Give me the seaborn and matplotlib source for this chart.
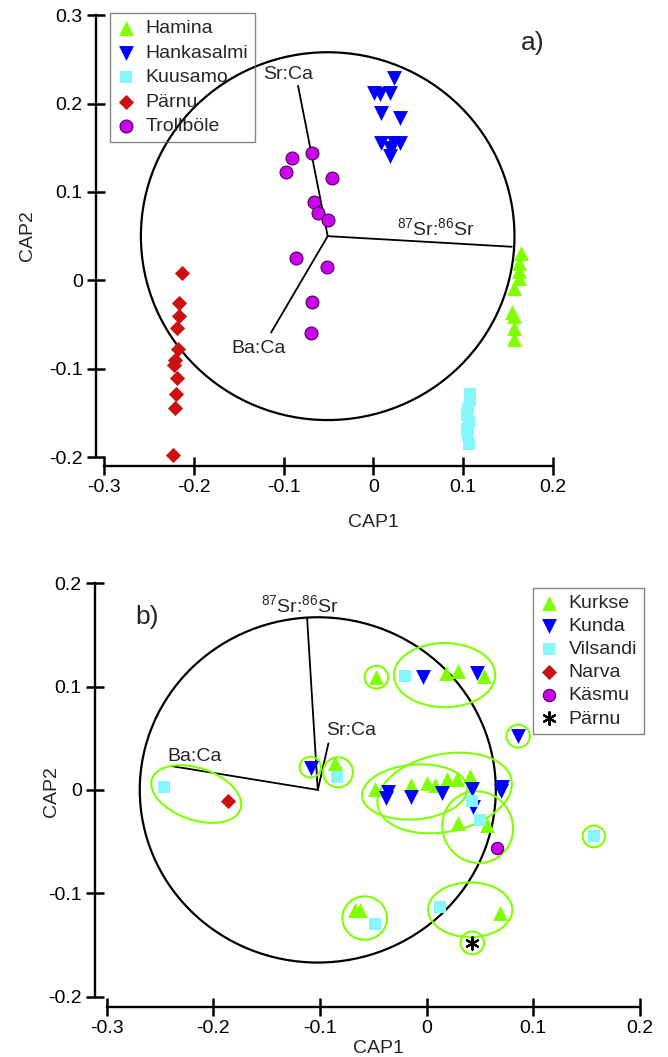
import numpy as np
import pandas as pd
import matplotlib
matplotlib.use("Agg")
import matplotlib.pyplot as plt
import seaborn as sns
from matplotlib.patches import Ellipse

# ---- panel a data (CAP scores) ----
hamina_x = [0.164, 0.162, 0.162, 0.162, 0.157, 0.154, 0.157, 0.157, 0.157]
hamina_y = [0.031, 0.020, 0.011, 0.003, -0.009, -0.036, -0.040, -0.054, -0.066]
hankasalmi_x = [0.023, 0.001, 0.007, 0.018, 0.008, 0.029, 0.008, 0.029, 0.018, 0.018, 0.023]
hankasalmi_y = [0.229, 0.212, 0.211, 0.212, 0.189, 0.184, 0.155, 0.155, 0.150, 0.141, 0.155]
kuusamo_x = [0.108, 0.107, 0.105, 0.104, 0.106, 0.104, 0.105, 0.106]
kuusamo_y = [-0.128, -0.135, -0.145, -0.152, -0.160, -0.168, -0.175, -0.185]
parnu_a_x = [-0.213, -0.217, -0.217, -0.219, -0.218, -0.221, -0.222, -0.219, -0.220, -0.221, -0.223]
parnu_a_y = [0.008, -0.026, -0.040, -0.054, -0.078, -0.090, -0.096, -0.111, -0.129, -0.144, -0.197]
trollbole_x = [-0.091, -0.097, -0.069, -0.046, -0.066, -0.062, -0.051, -0.086, -0.052, -0.069, -0.070]
trollbole_y = [0.138, 0.122, 0.144, 0.116, 0.089, 0.076, 0.068, 0.025, 0.015, -0.025, -0.060]

vec_a_origin = (-0.051, 0.050)
vec_a_names = ["Sr:Ca", "$^{87}$Sr:$^{86}$Sr", "Ba:Ca"]
vec_a_x = [-0.084, 0.154, -0.114]
vec_a_y = [0.220, 0.038, -0.059]
circle_a_r = 0.208

# ---- panel b data ----
kurkse_x = [-0.047, 0.018, 0.030, 0.054, -0.086, -0.048, -0.015, 0.0005, 0.008, 0.019,
            0.029, 0.041, 0.030, 0.057, -0.067, -0.062, 0.069]
kurkse_y = [0.109, 0.113, 0.115, 0.110, 0.026, 0.001, 0.005, 0.007, 0.005, 0.011,
            0.011, 0.013, -0.032, -0.034, -0.116, -0.116, -0.119]
kunda_x = [-0.003, 0.047, 0.086, -0.108, -0.036, -0.038, -0.015, 0.015, 0.043, 0.044, 0.071, 0.070]
kunda_y = [0.109, 0.113, 0.052, 0.021, -0.002, -0.008, -0.007, -0.003, 0.001, -0.017, 0.003, -0.001]
vilsandi_x = [-0.020, -0.084, 0.043, 0.050, 0.157, -0.048, 0.013, -0.246]
vilsandi_y = [0.110, 0.012, -0.011, -0.029, -0.045, -0.130, -0.113, 0.003]
narva_x = [-0.186]
narva_y = [-0.011]
kasmu_x = [0.066]
kasmu_y = [-0.056]
parnu_b_x = [0.043]
parnu_b_y = [-0.148]

# group ellipses: centre x, centre y, width, height, angle
ell_cx = [-0.216, -0.109, -0.083, -0.047, 0.017, 0.086, -0.011, 0.017, 0.048, 0.157, -0.058, 0.041, 0.043]
ell_cy = [-0.004, 0.022, 0.017, 0.109, 0.111, 0.052, -0.002, -0.003, -0.036, -0.045, -0.124, -0.116, -0.148]
ell_w = [0.088, 0.020, 0.028, 0.022, 0.095, 0.022, 0.099, 0.128, 0.066, 0.021, 0.042, 0.079, 0.022]
ell_h = [0.050, 0.020, 0.029, 0.022, 0.062, 0.022, 0.053, 0.075, 0.070, 0.021, 0.042, 0.053, 0.022]
ell_ang = [-20, 0, 0, 0, 0, 0, 5, 12, 20, 0, 0, 0, 0]

vec_b_origin = (-0.102, 0.0)
vec_b_names = ["$^{87}$Sr:$^{86}$Sr", "Ba:Ca", "Sr:Ca"]
vec_b_x = [-0.112, -0.239, -0.092]
vec_b_y = [0.166, 0.023, 0.045]
circle_b_r = 0.167

xticks = [-0.3, -0.2, -0.1, 0.0, 0.1, 0.2]
xtick_labels = ["-0.3", "-0.2", "-0.1", "0", "0.1", "0.2"]
yticks_a = [-0.2, -0.1, 0.0, 0.1, 0.2, 0.3]
ytick_labels_a = ["-0.2", "-0.1", "0", "0.1", "0.2", "0.3"]
yticks_b = [-0.2, -0.1, 0.0, 0.1, 0.2]
ytick_labels_b = ["-0.2", "-0.1", "0", "0.1", "0.2"]

GREEN = "#7fff00"
BLUE = "#0000ff"
CYAN = "#86f7fa"
RED = "#cc1111"
MAGENTA = "#cc00ee"
ASTERISK = (6, 2, 0)

sns.set_style("ticks")
plt.rcParams["font.family"] = ["Liberation Sans", "DejaVu Sans"]
plt.rcParams["mathtext.default"] = "regular"

fig = plt.figure(figsize=(6.68, 10.57), dpi=100)
ax1 = fig.add_axes([0.1437, 0.5591, 0.691, 0.4308])
ax2 = fig.add_axes([0.1422, 0.0473, 0.8234, 0.4059])


def scatter_group(ax, xs, ys, label, color, marker, size):
    df = pd.DataFrame({"CAP1": xs, "CAP2": ys})
    kw = dict(color=color, marker=marker, s=size, zorder=3, clip_on=False)
    if marker == "o":
        kw.update(edgecolor="#3a0040", linewidth=0.7)
    elif marker == ASTERISK:
        kw.update(linewidth=1.6)
    else:
        kw.update(linewidth=0)
    sns.scatterplot(data=df, x="CAP1", y="CAP2", ax=ax, label=label, **kw)


def draw_biplot(ax, origin, radius, names, vx, vy, offsets):
    ax.add_patch(Ellipse(origin, 2 * radius, 2 * radius, fill=False, ec="k", lw=1.6, zorder=2))
    for name, x, y, off in zip(names, vx, vy, offsets):
        ax.plot([origin[0], x], [origin[1], y], color="k", lw=1.3, zorder=2)
        ax.annotate(name, xy=(x, y), xytext=off, textcoords="offset pixels",
                    ha="center", va="center", fontsize=14)


def style_axes(ax, yticks, ylabels, xlim, ylim):
    ax.set_xlim(*xlim)
    ax.set_ylim(*ylim)
    ax.set_xticks(xticks)
    ax.set_yticks(yticks)
    sns.despine(ax=ax, trim=True)
    ax.set_xticklabels(xtick_labels)
    ax.set_yticklabels(ylabels)
    for s in ["left", "bottom"]:
        ax.spines[s].set_linewidth(1.7)
        ax.spines[s].set_color("k")
    ax.tick_params(direction="inout", length=13, width=1.8, labelsize=14, pad=3, colors="k")
    ax.set_xlabel("CAP1", fontsize=14)
    ax.set_ylabel("CAP2", fontsize=14)


# ---- panel a ----
draw_biplot(ax1, vec_a_origin, circle_a_r, vec_a_names, vec_a_x, vec_a_y,
            [(-10, 11), (-76, 19), (-13, -16)])
scatter_group(ax1, hamina_x, hamina_y, "Hamina", GREEN, "^", 115)
scatter_group(ax1, hankasalmi_x, hankasalmi_y, "Hankasalmi", BLUE, "v", 115)
scatter_group(ax1, kuusamo_x, kuusamo_y, "Kuusamo", CYAN, "s", 75)
scatter_group(ax1, parnu_a_x, parnu_a_y, "Pärnu", RED, "D", 60)
scatter_group(ax1, trollbole_x, trollbole_y, "Trollböle", MAGENTA, "o", 88)
style_axes(ax1, yticks_a, ytick_labels_a, (-0.309, 0.205), (-0.21, 0.305))
ax1.xaxis.set_label_coords(0.60, -0.105)
ax1.yaxis.set_label_coords(-0.13, 0.507)
ax1.text(0.177, 0.269, "a)", fontsize=19, ha="center", va="center")
leg = ax1.legend(loc="upper left", bbox_to_anchor=(0.03, 0.995), borderaxespad=0,
                 fancybox=False, edgecolor="#666666", fontsize=14, handlelength=1.0,
                 handletextpad=0.5, borderpad=0.35, labelspacing=0.35, scatterpoints=1)
leg.get_frame().set_facecolor("none")
leg.get_frame().set_linewidth(1.0)

# ---- panel b ----
draw_biplot(ax2, vec_b_origin, circle_b_r, vec_b_names, vec_b_x, vec_b_y,
            [(-7, 13), (23, 10), (23, 13)])
for cx, cy, w, h, a in zip(ell_cx, ell_cy, ell_w, ell_h, ell_ang):
    ax2.add_patch(Ellipse((cx, cy), w, h, angle=a, fill=False, ec=GREEN, lw=1.5, zorder=2))
scatter_group(ax2, kurkse_x, kurkse_y, "Kurkse", GREEN, "^", 115)
scatter_group(ax2, kunda_x, kunda_y, "Kunda", BLUE, "v", 115)
scatter_group(ax2, vilsandi_x, vilsandi_y, "Vilsandi", CYAN, "s", 75)
scatter_group(ax2, narva_x, narva_y, "Narva", RED, "D", 60)
scatter_group(ax2, kasmu_x, kasmu_y, "Käsmu", MAGENTA, "o", 80)
scatter_group(ax2, parnu_b_x, parnu_b_y, "Pärnu", "k", ASTERISK, 80)
style_axes(ax2, yticks_b, ytick_labels_b, (-0.311, 0.205), (-0.21, 0.205))
ax2.xaxis.set_label_coords(0.515, -0.077)
ax2.yaxis.set_label_coords(-0.064, 0.503)
ax2.text(-0.262, 0.167, "b)", fontsize=19, ha="center", va="center")
leg = ax2.legend(loc="upper left", bbox_to_anchor=(0.796, 0.977), borderaxespad=0,
                 fancybox=False, edgecolor="#666666", fontsize=14, handlelength=1.0,
                 handletextpad=0.5, borderpad=0.35, labelspacing=0.28, scatterpoints=1)
leg.get_frame().set_facecolor("none")
leg.get_frame().set_linewidth(1.0)

fig.savefig("out.png", dpi=100)
